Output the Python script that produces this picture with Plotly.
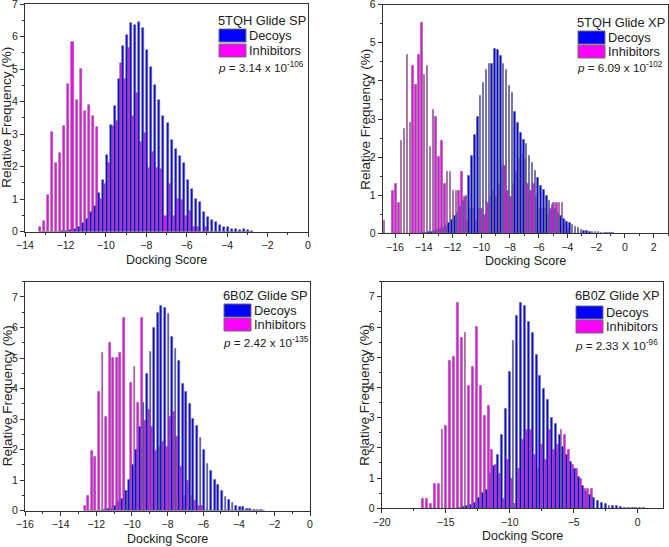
import plotly.graph_objects as go

# ---------------- data ----------------
P1_BINS = [-13.2,-13.0,-12.8,-12.6,-12.4,-12.2,-12.0,-11.8,-11.6,-11.4,-11.2,-11.0,-10.8,-10.6,-10.4,-10.2,
           -10.0,-9.8,-9.6,-9.4,-9.2,-9.0,-8.8,-8.6,-8.4,-8.2,-8.0,-7.8,-7.6,-7.4,-7.2,-7.0,-6.8,-6.6,-6.4,
           -6.2,-6.0,-5.8,-5.6,-5.4,-5.2,-5.0,-4.8,-4.6,-4.4,-4.2,-4.0,-3.8,-3.6,-3.4,-3.2,-3.0,-2.8]
P1_DECOYS = [0,0,0,0,0,0.01,0.02,0.04,0.07,0.15,0.27,0.38,0.6,0.8,1.2,1.6,
             2.37,3.28,3.87,4.7,5.7,6.04,6.42,6.35,6.45,6.27,5.58,5.05,4.52,4.05,3.55,3.35,2.82,2.55,2.33,
             2.1,1.6,1.3,1.0,0.9,0.6,0.45,0.35,0.3,0.2,0.14,0.14,0.07,0.09,0.05,0.07,0.04,0.02]
P1_INHIB = [0.15,0.33,1.13,3.07,2.1,2.43,3.25,4.53,5.82,4.05,5.01,3.72,3.88,3.56,3.23,1.0,
            1.47,2.1,3.25,3.4,5.19,4.7,5.65,3.56,4.25,2.77,3.04,1.95,2.46,1.95,1.94,0.47,1.46,0.47,1.0,
            0.97,0.47,0.65,0.15,0.15,0,0.15,0,0,0,0,0,0,0,0,0,0,0]

P2_BINS = [-16.7,-16.5,-16.3,-16.1,-15.9,-15.7,-15.5,-15.3,-15.1,-14.9,-14.7,-14.5,-14.3,-14.1,-13.9,-13.7,
           -13.5,-13.3,-13.1,-12.9,-12.7,-12.5,-12.3,-12.1,-11.9,-11.7,-11.5,-11.3,-11.1,-10.9,-10.7,-10.5,
           -10.3,-10.1,-9.9,-9.7,-9.5,-9.3,-9.1,-8.9,-8.7,-8.5,-8.3,-8.1,-7.9,-7.7,-7.5,-7.3,-7.1,-6.9,
           -6.7,-6.5,-6.3,-6.1,-5.9,-5.7,-5.5,-5.3,-5.1,-4.9,-4.7,-4.5,-4.3,-4.1,-3.9,-3.7,-3.5,-3.3,-3.1,
           -2.9,-2.7,-2.5,-2.3,-2.1,-1.9,-1.7,-1.5,-1.3,-1.1,-0.9]
P2_DECOYS = [0,0,0,0,0,0,0,0,0,0,0,0,0,0.01,0.02,0.03,
             0.04,0.06,0.09,0.12,0.15,0.2,0.27,0.35,0.45,0.55,0.7,0.85,1.0,1.5,2.05,2.6,
             3.05,3.6,3.95,4.3,4.45,4.45,4.85,4.83,4.65,4.45,4.3,3.88,3.7,3.2,2.9,2.65,2.45,2.35,
             2.05,1.85,1.65,1.45,1.25,1.15,1.0,0.85,0.75,0.65,0.55,0.45,0.38,0.3,0.28,0.22,0.18,0.14,0.1,
             0.08,0.06,0.05,0.04,0.03,0.03,0.02,0.02,0.01,0.01,0.01]
P2_INHIB = [0.32,0,0,1.13,1.3,0.8,2.42,2.75,4.7,2.91,4.39,3.89,4.7,5.53,4.17,4.39,
            2.27,3.24,3.06,2.0,2.42,1.3,1.62,1.62,1.13,1.13,1.13,1.62,0.97,0.32,0.65,0.65,
            0.32,0.65,0.65,0.48,0.81,0.97,1.13,0.97,1.3,1.78,1.78,1.13,0.97,1.3,1.62,1.95,2.1,1.95,
            1.3,1.13,1.3,0.97,0.65,0.65,0.65,0.48,0.65,0.8,0.8,0.8,0.8,0.32,0.16,0,0,0,0,
            0,0,0,0,0,0,0,0,0,0,0]

P3_BINS = [-12.6,-12.4,-12.2,-12.0,-11.8,-11.6,-11.4,-11.2,-11.0,-10.8,-10.6,-10.4,-10.2,-10.0,-9.8,-9.6,
           -9.4,-9.2,-9.0,-8.8,-8.6,-8.4,-8.2,-8.0,-7.8,-7.6,-7.4,-7.2,-7.0,-6.8,-6.6,-6.4,-6.2,-6.0,
           -5.8,-5.6,-5.4,-5.2,-5.0,-4.8,-4.6,-4.4,-4.2,-4.0,-3.8,-3.6,-3.4,-3.2,-3.0,-2.8,-2.6]
P3_DECOYS = [0,0,0,0,0,0.03,0.05,0.07,0.15,0.28,0.38,0.65,1.0,1.52,2.0,2.75,
             3.55,4.5,5.2,6.0,6.5,6.7,6.65,6.45,5.7,5.3,4.9,4.15,3.9,3.5,3.0,2.8,2.4,2.0,
             1.55,1.3,1.0,0.85,0.65,0.45,0.35,0.25,0.15,0.12,0.12,0.07,0.05,0.04,0.03,0.02,0.01]
P3_INHIB = [0.17,0.48,1.95,1.78,3.9,5.18,3.08,5.5,5.02,5.02,5.18,6.32,0.65,4.2,4.7,3.55,
            6.32,2.95,3.3,2.75,1.95,2.1,2.25,2.1,3.08,3.25,2.42,1.45,0.48,0.97,0.48,0.32,0.17,0.17,
            0,0,0,0,0,0,0,0,0,0,0,0,0,0,0,0,0]

P4_BINS = [-16.7,-16.4,-16.1,-15.8,-15.5,-15.2,-14.9,-14.6,-14.3,-14.0,-13.7,-13.4,-13.1,-12.8,-12.5,
           -12.2,-11.9,-11.6,-11.3,-11.0,-10.7,-10.4,-10.1,-9.8,-9.5,-9.2,-8.9,-8.6,-8.3,-8.0,-7.7,-7.4,
           -7.1,-6.8,-6.5,-6.2,-5.9,-5.6,-5.3,-5.0,-4.7,-4.4,-4.1,-3.8,-3.5,-3.2,-2.9,-2.6,-2.3,-2.0,
           -1.7,-1.4,-1.1,-0.8,-0.5,-0.2,0.1,0.4]
P4_DECOYS = [0,0,0,0,0,0,0,0,0,0.03,0.05,0.07,0.12,0.2,0.35,
             0.5,0.6,1.15,1.42,1.78,2.42,3.3,4.52,5.56,6.38,6.82,6.72,6.17,5.81,5.1,4.4,3.97,
             3.6,3.0,2.8,2.45,2.05,1.78,1.55,1.3,1.05,0.75,0.55,0.45,0.35,0.25,0.2,0.15,0.1,0.08,
             0.08,0.04,0.03,0.02,0.02,0.01,0.01,0.01]
P4_INHIB = [0.32,0.32,0.16,0.8,0.8,2.6,2.75,4.87,5.03,6.8,5.65,5.8,4.05,4.7,6.0,
            4.05,3.07,3.4,1.95,1.45,1.13,0.32,1.62,0.97,0.16,1.3,2.27,2.6,2.6,1.78,1.3,2.1,
            1.62,2.6,1.95,2.1,2.6,2.45,1.95,1.45,1.3,0.97,0.65,0.65,0.65,0,0,0,0,0,
            0,0,0,0,0,0,0,0]

TITLES = ["5TQH Glide SP", "5TQH Glide XP", "6B0Z Glide SP", "6B0Z Glide XP"]
P_TEXT = ["<i>p</i> = 3.14 x 10<sup>-106</sup>", "<i>p</i> = 6.09 x 10<sup>-102</sup>",
          "<i>p</i> = 2.42 x 10<sup>-135</sup>", "<i>p</i> = 2.33 X 10<sup>-96</sup>"]
SERIES = ["Decoys", "Inhibitors"]

# ---------------- layout helpers ----------------
W, H = 669, 547
def fx(x): return x / W
def fy(y): return 1 - y / H

DEC_COL = "#0000FF"
INH_COL = "#FF00FF"
EDGE = "#6e6e6e"
FONT = "Liberation Sans, Arial, sans-serif"

panels = [
    dict(bins=P1_BINS, dec=P1_DECOYS, inh=P1_INHIB, xr=[-14, 0], yr=[0, 7], dx=2, mdx=1,
         box=(25, 308, 4, 231.7), leg=(216, 20, 29, 44, 67)),
    dict(bins=P2_BINS, dec=P2_DECOYS, inh=P2_INHIB, xr=[-16.85, 3], yr=[0, 6], dx=2, mdx=1,
         box=(382.8, 668, 4.7, 233.3), leg=(575, 22.7, 31, 45, 67)),
    dict(bins=P3_BINS, dec=P3_DECOYS, inh=P3_INHIB, xr=[-16, 0], yr=[0, 7.5], dx=2, mdx=1,
         box=(25, 310, 281.7, 510.7), leg=(221, 295, 304, 318, 342)),
    dict(bins=P4_BINS, dec=P4_DECOYS, inh=P4_INHIB, xr=[-20, 2], yr=[0, 7.5], dx=5, mdx=2.5,
         box=(381.7, 663.3, 281.7, 508.3), leg=(573, 295, 306, 320, 345)),
]

fig = go.Figure()
layout = dict(width=W, height=H, margin=dict(l=0, r=0, t=0, b=0, autoexpand=False),
              paper_bgcolor="white", plot_bgcolor="white", showlegend=False,
              barmode="group", bargap=0.0, bargroupgap=0.0,
              font=dict(family=FONT, color="#222"))
annotations = []
shapes = []

for i, p in enumerate(panels):
    n = "" if i == 0 else str(i + 1)
    xa, ya = "x" + n, "y" + n
    fig.add_trace(go.Bar(x=p["bins"], y=p["inh"], name=SERIES[1], xaxis=xa, yaxis=ya,
                         marker=dict(color=INH_COL, line=dict(color=EDGE, width=0.6))))
    fig.add_trace(go.Bar(x=p["bins"], y=p["dec"], name=SERIES[0], xaxis=xa, yaxis=ya,
                         marker=dict(color=DEC_COL, line=dict(color=EDGE, width=0.6))))
    x0, x1, y0, y1 = p["box"]
    axis_common = dict(showgrid=False, zeroline=False, showline=True, linecolor="#333",
                       linewidth=1, mirror=True, ticks="outside", ticklen=4, tickwidth=1,
                       tickcolor="#333", tickfont=dict(size=10.5, color="#222", family=FONT),
                       automargin=False, ticklabeloverflow="allow")
    layout["xaxis" + n] = dict(domain=[fx(x0), fx(x1)], range=p["xr"], anchor=ya,
                               dtick=p["dx"], tick0=0,
                               minor=dict(dtick=p["mdx"], ticklen=2, tickcolor="#333", ticks="outside"),
                               **axis_common)
    layout["yaxis" + n] = dict(domain=[fy(y1), fy(y0)], range=p["yr"], anchor=xa,
                               dtick=1, tick0=0,
                               minor=dict(dtick=0.5, ticklen=2, tickcolor="#333", ticks="outside"),
                               **axis_common)
    # axis titles
    annotations.append(dict(text="Docking Score", x=fx((x0 + x1) / 2), y=fy(y1 + 28),
                            xref="paper", yref="paper", showarrow=False,
                            xanchor="center", yanchor="middle",
                            font=dict(size=12.5, color="#222", family=FONT)))
    annotations.append(dict(text="Relative Frequency (%)", x=fx(x0 - 18), y=fy((y0 + y1) / 2),
                            xref="paper", yref="paper", showarrow=False, textangle=-90,
                            xanchor="center", yanchor="middle",
                            font=dict(size=13.5, color="#222", family=FONT)))
    # legend block
    lx, ty, by1, by2, pyy = p["leg"]
    annotations.append(dict(text=TITLES[i], x=fx(lx), y=fy(ty), xref="paper", yref="paper",
                            showarrow=False, xanchor="left", yanchor="middle",
                            font=dict(size=12.8, color="#222", family=FONT)))
    for k, (col, lab, by) in enumerate([(DEC_COL, SERIES[0], by1), (INH_COL, SERIES[1], by2)]):
        shapes.append(dict(type="rect", xref="paper", yref="paper",
                           x0=fx(lx + 3), x1=fx(lx + 30), y0=fy(by + 13), y1=fy(by),
                           fillcolor=col, line=dict(color=EDGE, width=1)))
        annotations.append(dict(text=lab, x=fx(lx + 31), y=fy(by + 6.5), xref="paper", yref="paper",
                                showarrow=False, xanchor="left", yanchor="middle",
                                font=dict(size=12.8, color="#222", family=FONT)))
    annotations.append(dict(text=P_TEXT[i], x=fx(lx), y=fy(pyy), xref="paper", yref="paper",
                            showarrow=False, xanchor="left", yanchor="middle",
                            font=dict(size=11.7, color="#222", family=FONT)))

layout["annotations"] = annotations
layout["shapes"] = shapes
fig.update_layout(**layout)
fig.write_html("out.html", config={"displayModeBar": False},
               post_script="document.body.style.margin='0';document.body.style.overflow='hidden';")
